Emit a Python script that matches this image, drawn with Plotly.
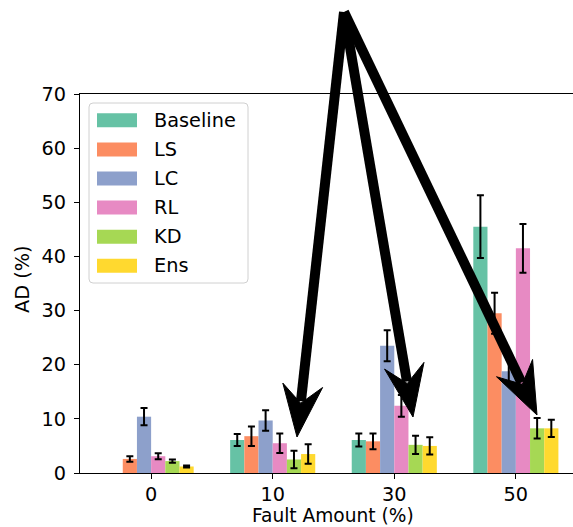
import math
import plotly.graph_objects as go

# Fault amount groups shown on the x axis
categories = ["0", "10", "30", "50"]

# Mean AD (%) per method and its error (±); no Baseline bar at 0 %
series_names = ["Baseline", "LS", "LC", "RL", "KD", "Ens"]
baseline = [None, 6.1, 6.1, 45.5]
baseline_err = [None, 1.1, 1.2, 5.8]
ls = [2.6, 6.8, 5.85, 29.5]
ls_err = [0.5, 1.8, 1.45, 3.8]
lc = [10.4, 9.7, 23.5, 18.8]
lc_err = [1.6, 1.9, 2.85, 2.2]
rl = [3.1, 5.5, 12.4, 41.5]
rl_err = [0.55, 1.8, 2.0, 4.5]
kd = [2.2, 2.5, 5.2, 8.25]
kd_err = [0.3, 1.6, 1.7, 1.9]
ens = [1.2, 3.5, 5.0, 8.25]
ens_err = [0.2, 1.8, 1.6, 1.6]

values = [baseline, ls, lc, rl, kd, ens]
errors = [baseline_err, ls_err, lc_err, rl_err, kd_err, ens_err]
colors = ["#66c2a5", "#fc8d62", "#8da0cb", "#e78ac3", "#a6d854", "#ffd92f"]

W, H = 573, 527
L, R, T, B = 80, 573, 94, 473
FONT = "DejaVu Sans"
FS = 19.3


def px(x):
    return (x - L) / (R - L)


def py(y):
    return (B - y) / (B - T)


xpos = list(range(len(categories)))

fig = go.Figure()
for name, vals, errs, col in zip(series_names, values, errors, colors):
    fig.add_trace(go.Bar(
        x=xpos, y=vals, name=name,
        marker=dict(color=col, line=dict(width=0)),
        error_y=dict(type="data", array=errs, visible=True,
                     color="black", thickness=2, width=3.5),
        showlegend=False,
    ))

shapes = []
annotations = []

# Legend box drawn as shapes and text (rounded frame)
box_l, box_r, box_t, box_b = 89, 248, 103, 283
rad = 4
frame = ("M{l},{t1} Q{l},{t} {l1},{t} L{r1},{t} Q{r},{t} {r},{t1} "
         "L{r},{b1} Q{r},{b} {r1},{b} L{l1},{b} Q{l},{b} {l},{b1} Z").format(
    l=px(box_l), r=px(box_r), t=py(box_t), b=py(box_b),
    l1=px(box_l + rad), r1=px(box_r - rad), t1=py(box_t + rad), b1=py(box_b - rad))
shapes.append(dict(type="path", xref="paper", yref="paper", path=frame,
                   line=dict(color="#d0d0d0", width=1),
                   fillcolor="rgba(255,255,255,0.85)", layer="above"))
row0, row_step = 120.3, 29.1
for i, (name, col) in enumerate(zip(series_names, colors)):
    cy = row0 + i * row_step
    shapes.append(dict(type="rect", xref="paper", yref="paper",
                       x0=px(97), x1=px(137), y0=py(cy + 7), y1=py(cy - 7),
                       line=dict(width=0), fillcolor=col, layer="above"))
    annotations.append(dict(text=name, xref="paper", yref="paper",
                            x=px(152), y=py(cy), xanchor="left", yanchor="middle",
                            showarrow=False, font=dict(family=FONT, size=FS, color="black")))

# Axis titles
annotations.append(dict(text="Fault Amount (%)", xref="paper", yref="paper",
                        x=px(333), y=py(528), xanchor="center", yanchor="bottom",
                        showarrow=False, font=dict(family=FONT, size=18.6, color="black")))
annotations.append(dict(text="AD (%)", xref="paper", yref="paper",
                        x=px(22), y=py(279), xanchor="center", yanchor="middle",
                        textangle=-90, showarrow=False,
                        font=dict(family=FONT, size=FS, color="black")))

# Three heavy pointer arrows fanning out from one point above the plot
apex = (344, 12)
tips = [(297, 437), (413, 417), (537, 415)]
head_len, head_half, notch = 52, 20, 34
for tx, ty in tips:
    dx, dy = tx - apex[0], ty - apex[1]
    d = math.hypot(dx, dy)
    ux, uy = dx / d, dy / d
    nx, ny = -uy, ux
    w1 = (tx - ux * head_len + nx * head_half, ty - uy * head_len + ny * head_half)
    w2 = (tx - ux * head_len - nx * head_half, ty - uy * head_len - ny * head_half)
    nb = (tx - ux * notch, ty - uy * notch)
    end = (tx - ux * (notch + 2), ty - uy * (notch + 2))
    shapes.append(dict(type="line", xref="paper", yref="paper",
                       x0=px(apex[0]), y0=py(apex[1]), x1=px(end[0]), y1=py(end[1]),
                       line=dict(color="black", width=10), layer="above"))
    path = "M{},{} L{},{} L{},{} L{},{} Z".format(
        px(tx), py(ty), px(w1[0]), py(w1[1]), px(nb[0]), py(nb[1]), px(w2[0]), py(w2[1]))
    shapes.append(dict(type="path", xref="paper", yref="paper", path=path,
                       fillcolor="black", line=dict(color="black", width=1), layer="above"))

fig.update_layout(
    width=W, height=H,
    margin=dict(l=L, r=W - R, t=T, b=H - B, pad=0),
    paper_bgcolor="white", plot_bgcolor="white",
    barmode="group", bargap=0.3, bargroupgap=0.0,
    font=dict(family=FONT, size=FS, color="black"),
    shapes=shapes, annotations=annotations,
    showlegend=False,
)
fig.update_xaxes(
    range=[-0.585, 3.47], tickmode="array", tickvals=xpos, ticktext=categories,
    showline=True, linecolor="black", linewidth=1.3, mirror=True,
    ticks="outside", ticklen=5, tickwidth=1.2, tickcolor="black",
    showgrid=False, zeroline=False, ticklabelstandoff=-1,
    tickfont=dict(family=FONT, size=FS, color="black"),
)
fig.update_yaxes(
    range=[0, 70], tickmode="array", tickvals=list(range(0, 71, 10)),
    showline=True, linecolor="black", linewidth=1.3, mirror=False,
    ticks="outside", ticklen=5, tickwidth=1.2, tickcolor="black",
    showgrid=False, zeroline=False, ticklabelstandoff=4,
    tickfont=dict(family=FONT, size=FS, color="black"),
)

fig.write_html("out.html")
